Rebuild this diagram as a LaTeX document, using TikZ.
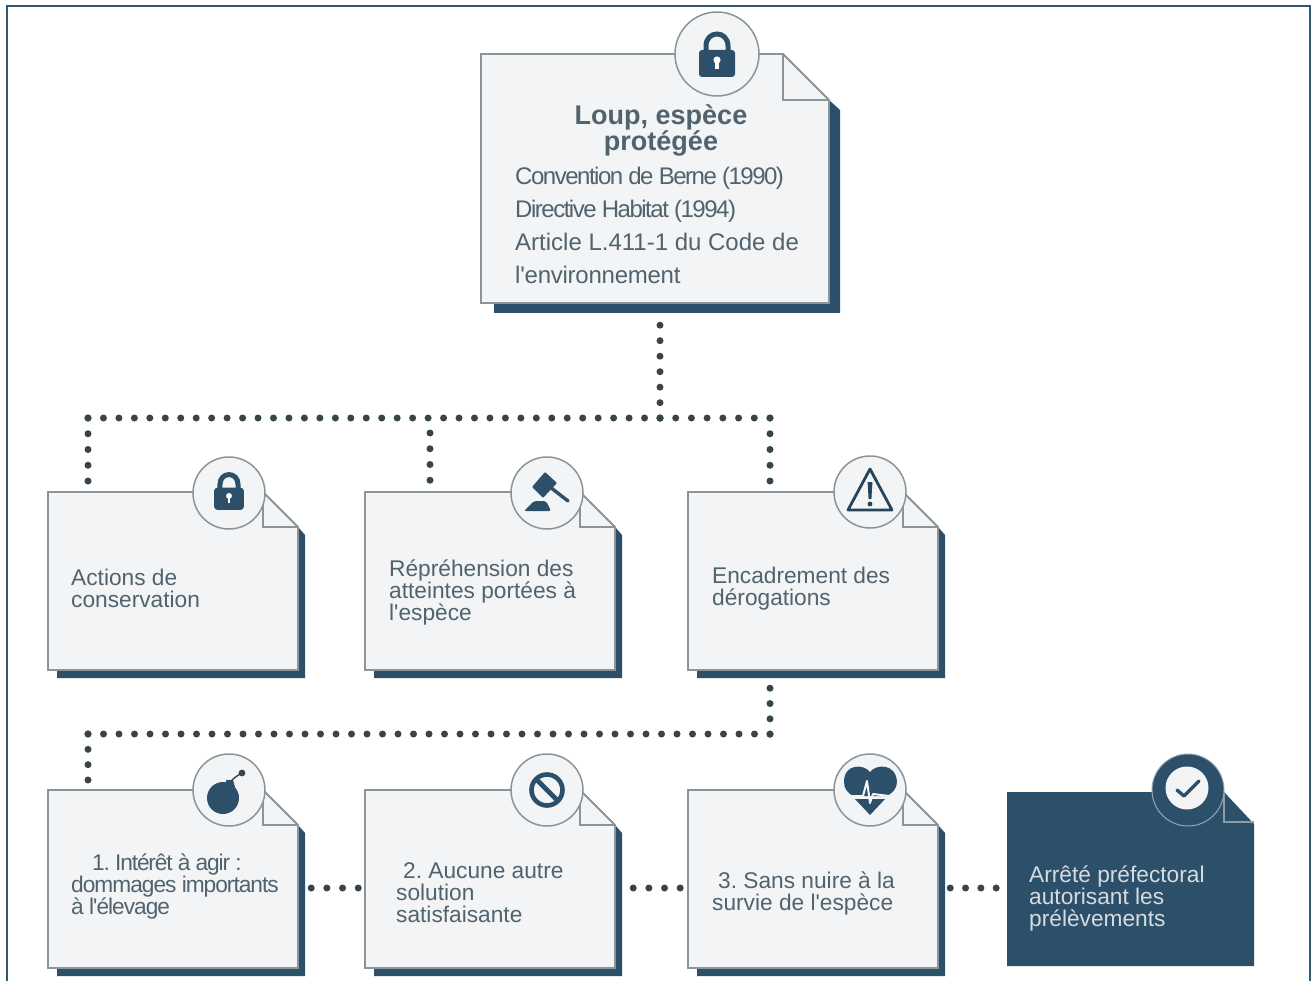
\documentclass[tikz,border=0pt]{standalone}
\usepackage{fontspec}
\usetikzlibrary{calc}
\setmainfont[Ligatures=TeXOff]{Liberation Sans}
\frenchspacing
\definecolor{navy}{HTML}{2C5069}
\definecolor{cardfill}{HTML}{F3F4F5}
\definecolor{cardedge}{HTML}{8B9499}
\definecolor{ink}{HTML}{50636F}
\definecolor{frameblue}{HTML}{2F5872}
\definecolor{dotcol}{HTML}{38444C}
\tikzset{
  cardbody/.style={fill=cardfill,draw=cardedge,line width=1.8pt,line join=miter},
  cardshadow/.style={fill=navy,draw=none},
  badge/.style={circle,minimum size=72pt,inner sep=0pt,fill=cardfill,draw=cardedge,line width=1.5pt},
  cardtext/.style={anchor=north west,inner sep=0pt,align=left,text=ink,font=\fontsize{22.7}{22}\selectfont},
  listline/.style={anchor=base west,inner sep=0pt,text=ink,font=\fontsize{24}{26}\selectfont},
  titletext/.style={inner sep=0pt,align=center,text=ink,font=\fontsize{27}{26}\selectfont\bfseries},
  link/.style={line width=7pt,line cap=round,draw=dotcol,dash pattern=on 0pt off #1pt}
}
% #1 name #2 x0 #3 y0 #4 x1 #5 y1 #6 fold #7 shadow x offset #8 shadow y offset
\newcommand\notecard[8]{%
  \fill[cardshadow] (#2+#7+2,#5) -- (#2+#7+2,#5+#8) -- (#4+#7,#5+#8) -- (#4+#7,#3+#6+#8) -- (#4,#3+#6) -- cycle;
  \path[cardbody] (#2,#3) -- (#4-#6,#3) -- (#4,#3+#6) -- (#4,#5) -- (#2,#5) -- cycle;
  \draw[draw=cardedge,line width=1.8pt] (#4-#6,#3) -- (#4-#6,#3+#6) -- (#4,#3+#6);
  \node[inner sep=0pt,minimum width=#4pt-#2pt,minimum height=#5pt-#3pt] (#1) at ({(#2+#4)/2},{(#3+#5)/2}) {};
}
\newcommand\lockicon[3]{\begin{scope}[shift={(#1,#2)},scale=#3]
  \draw[navy,line width=5pt] (-11,0) -- (-11,-8) .. controls (-11,-24) and (11,-24) .. (11,-8) -- (11,0);
  \fill[navy,rounded corners=3pt] (-18,-4) rectangle (18,23);
  \fill[white] (0,6) circle (3.6);
  \fill[white] (-1.6,6) rectangle (1.6,15);
\end{scope}}
\begin{document}
\begin{tikzpicture}[x=1pt,y=-1pt]
\useasboundingbox (0,0) rectangle (1316,981);
\fill[white] (0,0) rectangle (1316,981);
\draw[frameblue,line width=2pt] (7,981) -- (7,6) -- (1310,6) -- (1310,981);

\coordinate (jmain) at (660,418);
\coordinate (jleft) at (88,418);
\coordinate (jmid) at (430,418);
\coordinate (jright) at (770,418);
\coordinate (kright) at (770,734);
\coordinate (kleft) at (88,734);

\notecard{main}{481}{54}{829}{303}{46}{11}{10}
\notecard{aa}{48}{492}{298}{670}{35}{7}{8}
\notecard{ab}{365}{492}{615}{670}{35}{7}{8}
\notecard{ac}{688}{492}{938}{670}{35}{7}{8}
\notecard{ba}{48}{790}{298}{968}{35}{7}{8}
\notecard{bb}{365}{790}{615}{968}{35}{7}{8}
\notecard{bc}{688}{790}{938}{968}{35}{7}{8}

% dark card
\path[fill=navy] (1007,792) -- (1224,792) -- (1254,824) -- (1254,966) -- (1007,966) -- cycle;
\draw[draw=cardedge!50!navy!70!white,line width=1.2pt] (1224,794) -- (1224,822) -- (1254,822);
\node[inner sep=0pt,minimum width=247pt,minimum height=174pt] (bd) at (1130.5,879) {};

% links
\draw[link=15.5] ($(jmain |- main.south)+(0,22)$) -- ($(jmain)+(0,2)$);
\draw[link=15.46] (jmain) -- ($(jleft)+(-2,0)$);
\draw[link=15.71] (jmain) -- ($(jright)+(2,0)$);
\draw[link=15.75] (jleft) -- ($(jleft |- aa.north)+(0,-8)$);
\draw[link=15.75] ($(jmid)+(0,15)$) -- ($(jmid |- ab.north)+(0,-8)$);
\draw[link=15.75] (jright) -- ($(jright |- ac.north)+(0,-8)$);
\draw[link=15.33] ($(kright |- ac.south)+(0,18)$) -- ($(kright)+(0,2)$);
\draw[link=15.5] (kright) -- ($(kleft)+(-2,0)$);
\draw[link=15.33] (kleft) -- ($(kleft |- ba.north)+(0,-8)$);
\draw[link=15.67] ($(ba.east |- 0,888)+(13,0)$) -- ($(bb.west |- 0,888)+(-5,0)$);
\draw[link=15.67] ($(bb.east |- 0,888)+(18,0)$) -- ($(bc.west |- 0,888)+(-6,0)$);
\draw[link=15.33] ($(bc.east |- 0,888)+(12,0)$) -- ($(bd.west |- 0,888)+(-9,0)$);

% badges
\node[badge,minimum size=84pt] (cmain) at (717,54) {};
\node[badge] (caa) at (229,493) {};
\node[badge] (cab) at (547,493) {};
\node[badge] (cac) at (870,492) {};
\node[badge] (cba) at (229,790) {};
\node[badge] (cbb) at (547,790) {};
\node[badge] (cbc) at (870,790) {};
\node[circle,minimum size=72pt,inner sep=0pt,fill=navy,draw=cardedge!40!navy!60!white,line width=1pt] (cbd) at (1188,790) {};
\node[circle,minimum size=43pt,inner sep=0pt,fill=cardfill] (cbdi) at (1187,788) {};

% icons
\lockicon{717}{54}{1}
\lockicon{229}{491}{.82}
% gavel
\begin{scope}[shift={(547,493)}]
  \fill[navy,rounded corners=1pt] (-15,-6) -- (-2,-21) -- (10,-10) -- (-4,5) -- cycle;
  \draw[navy,line width=3.4pt,line cap=round] (3,-6) -- (21,8);
  \fill[navy,rounded corners=2pt] (-23,18) -- (-13,8) -- (-1,8) -- (4,18) -- cycle;
\end{scope}
% warning
\begin{scope}[shift={(870,492)}]
  \draw[navy!85!black,line width=2.8pt,line join=round] (0,-23) -- (22,18) -- (-22,18) -- cycle;
  \fill[navy!85!black] (-2.4,-10) -- (2.4,-10) -- (1.4,7) -- (-1.4,7) -- cycle;
  \fill[navy!85!black] (0,12) circle (2.4);
\end{scope}
% bomb
\begin{scope}[shift={(229,790)}]
  \fill[navy] (-6,8) circle (16);
  \fill[navy] (-3,-10) -- (4,-10) -- (6,-3) -- (-3,-3) -- cycle;
  \draw[dotcol,line width=1.4pt] (2,-9) .. controls (5,-12) and (9,-15) .. (13,-17);
  \fill[dotcol] (13,-17) circle (3.4);
\end{scope}
% no sign
\begin{scope}[shift={(547,790)}]
  \draw[navy,line width=4.6pt] (0,0) circle (15.5);
  \draw[navy,line width=4.6pt] (-11,-11) -- (11,11);
\end{scope}
% heart
\begin{scope}[shift={(870,790)}]
  \fill[navy] (0,-18) .. controls (-6,-26) and (-26,-27) .. (-26,-8) .. controls (-26,-1) and (-22,3) .. (-17,6) -- (17,6) .. controls (22,3) and (27,-1) .. (27,-8) .. controls (26,-27) and (6,-26) .. (0,-18) -- cycle;
  \fill[navy] (-15,9) -- (15,9) -- (0,25) -- cycle;
  \draw[cardfill,line width=2pt,line join=round] (-19,6) -- (-7,6) -- (-3,-9) -- (0,13) -- (3,4) -- (19,6);
\end{scope}
% check
\draw[navy,line width=3.4pt,line cap=round,line join=round] ($(cbdi.center)+(-10,2)$) -- ($(cbdi.center)+(-3,8)$) -- ($(cbdi.center)+(12,-7)$);

% texts
\node[titletext] (title) at (661,130) {Loup, espèce\\protégée};
\node[listline] (l1) at (515,185) {\addfontfeature{LetterSpace=-6.2}Convention de Berne (1990)};
\node[listline] (l2) at (515,218) {\addfontfeature{LetterSpace=-6.2}Directive Habitat (1994)};
\node[listline] (l3) at (515,251) {Article L.411-1 du Code de};
\node[listline] (l4) at (515,284) {\addfontfeature{LetterSpace=-1}l'environnement};

\node[cardtext] (taa) at (71,569) {Actions de\\conservation};
\node[cardtext] (tab) at (389,560) {Répréhension des\\atteintes portées à\\l'espèce};
\node[cardtext] (tac) at (712,567) {Encadrement des\\dérogations};
\node[cardtext] (tba) at (71,854) {\addfontfeature{LetterSpace=-5}\hspace*{21pt}1. Intérêt à agir :\\\addfontfeature{LetterSpace=-4.4}dommages importants\\\addfontfeature{LetterSpace=-4.4}à l'élevage};
\node[cardtext] (tbb) at (396,862) {\hspace*{7pt}2. Aucune autre\\solution\\satisfaisante};
\node[cardtext] (tbc) at (712,872) {\hspace*{6pt}3. Sans nuire à la\\survie de l'espèce};
\node[cardtext,text=cardfill!85!navy] (tbd) at (1029,866) {Arrêté préfectoral\\autorisant les\\prélèvements};
\end{tikzpicture}
\end{document}
